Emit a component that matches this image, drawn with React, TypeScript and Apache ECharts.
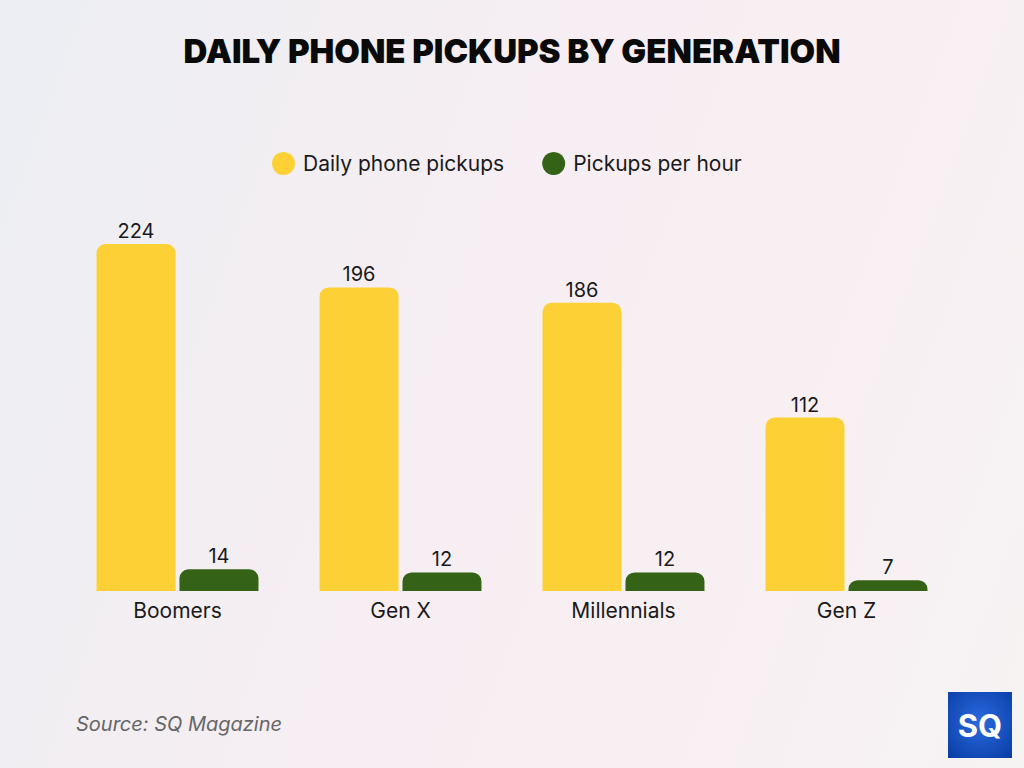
import React, { useEffect, useRef } from "react";
import * as echarts from "echarts";

const categories = ["Boomers", "Gen X", "Millennials", "Gen Z"];
const dailyPickups = [224, 196, 186, 112];
const pickupsPerHour = [14, 12, 12, 7];
const seriesNames = ["Daily phone pickups", "Pickups per hour"];

const FONT = "Inter, 'Noto Sans', sans-serif";

export default function App() {
  const ref = useRef<HTMLDivElement>(null);
  useEffect(() => {
    if (!ref.current) return;
    const chart = echarts.init(ref.current, null, { renderer: "svg" });
    chart.setOption({
      animation: false,
      backgroundColor: "transparent",
      title: {
        text: "DAILY PHONE PICKUPS BY GENERATION",
        left: "center",
        top: 29,
        textStyle: { fontFamily: FONT, fontSize: 33, fontWeight: 900, color: "#0a0a0a" },
      },
      legend: {
        top: 152,
        left: 272,
        padding: 0,
        icon: "circle",
        itemWidth: 23,
        itemHeight: 23,
        itemGap: 38,
        textStyle: { fontFamily: FONT, fontSize: 21, color: "#1a1a1a", padding: [0, 0, 0, 3] },
        data: seriesNames,
      },
      grid: { left: 66, right: 66, top: 244, bottom: 177 },
      xAxis: {
        type: "category",
        data: categories,
        axisLine: { show: false },
        axisTick: { show: false },
        axisLabel: { fontFamily: FONT, fontSize: 21, color: "#1a1a1a", margin: 9 },
      },
      yAxis: { type: "value", min: 0, max: 224, show: false, splitLine: { show: false } },
      series: [
        {
          name: seriesNames[0],
          type: "bar",
          data: dailyPickups,
          barWidth: 79,
          barGap: "5%",
          itemStyle: { color: "#FDD135", borderRadius: [9, 9, 0, 0] },
          label: { show: true, position: "top", distance: 3, fontFamily: FONT, fontSize: 20, color: "#1a1a1a" },
        },
        {
          name: seriesNames[1],
          type: "bar",
          data: pickupsPerHour,
          barWidth: 79,
          itemStyle: { color: "#346317", borderRadius: [9, 9, 0, 0] },
          label: { show: true, position: "top", distance: 3, fontFamily: FONT, fontSize: 20, color: "#1a1a1a" },
        },
      ],
      graphic: [
        {
          type: "text",
          left: 76,
          top: 714,
          style: { text: "Source: SQ Magazine", fontFamily: FONT, fontSize: 20, fontStyle: "italic", fill: "#666" },
        },
        {
          type: "rect",
          shape: { x: 948, y: 692, width: 64, height: 66 },
          style: {
            fill: new echarts.graphic.RadialGradient(0.5, 0.45, 0.7, [
              { offset: 0, color: "#2a6ae0" },
              { offset: 1, color: "#0b3fa6" },
            ]),
          },
        },
        {
          type: "text",
          x: 980,
          y: 725,
          style: {
            text: "SQ",
            fontFamily: FONT,
            fontSize: 31,
            fontWeight: 700,
            fill: "#ffffff",
            align: "center",
            verticalAlign: "middle",
          },
        },
      ],
    });
    return () => chart.dispose();
  }, []);
  return (
    <div
      ref={ref}
      style={{
        position: "fixed",
        left: 0,
        top: 0,
        width: 1024,
        height: 768,
        background: "linear-gradient(110deg, #eceef3 0%, #f6eef2 45%, #f8eff2 70%, #f6f3f3 100%)",
      }}
    />
  );
}
